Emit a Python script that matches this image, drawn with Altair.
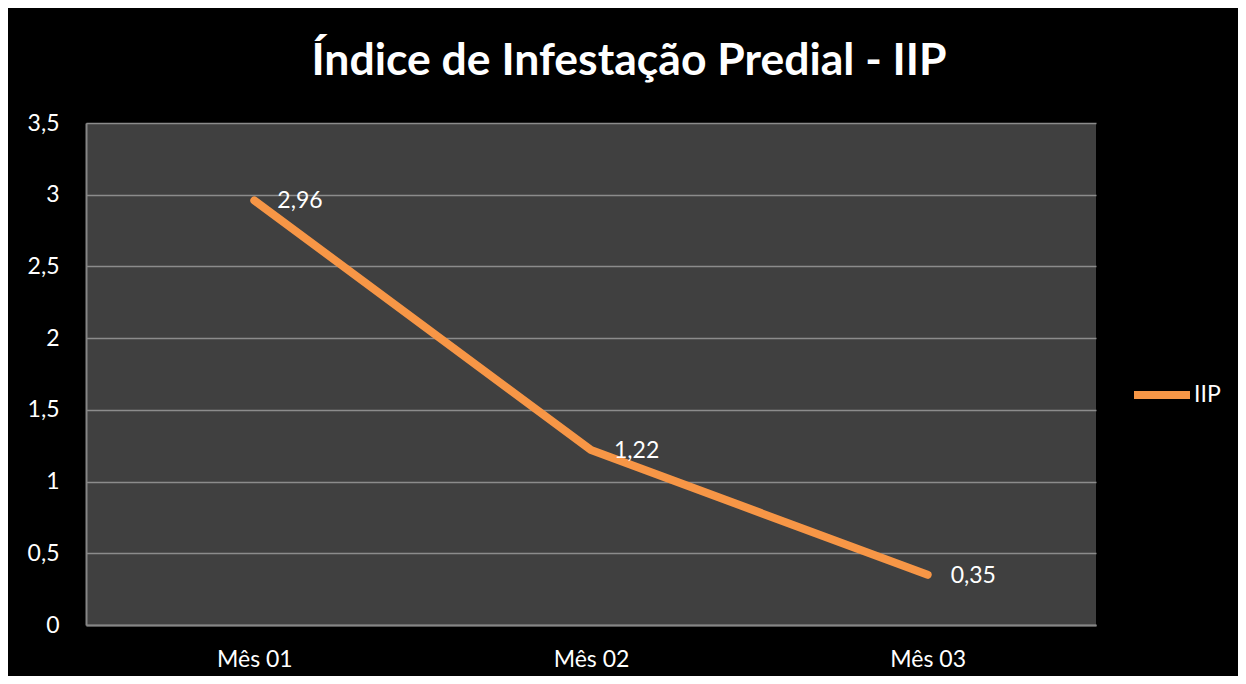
import altair as alt
import pandas as pd

months = ["Mês 01", "Mês 02", "Mês 03"]
iip = [2.96, 1.22, 0.35]
series = ["IIP", "IIP", "IIP"]

df = pd.DataFrame({"mes": months, "iip": iip, "serie": series})

FONT = "Lato"

base = alt.Chart(df).encode(
    x=alt.X("mes:N", sort=months, title=None,
            scale=alt.Scale(type="point", padding=0.5),
            axis=alt.Axis(labelAngle=0, labelColor="white", labelFontSize=23,
                          labelFont=FONT, labelPadding=23, ticks=False,
                          domainColor="#868686", domainWidth=2, grid=False)),
    y=alt.Y("iip:Q", title=None,
            scale=alt.Scale(domain=[0, 3.5], nice=False),
            axis=alt.Axis(values=[0, 0.5, 1, 1.5, 2, 2.5, 3, 3.5],
                          labelExpr="replace(toString(datum.value), '.', ',')",
                          labelColor="white", labelFontSize=23, labelFont=FONT,
                          labelPadding=27, ticks=False,
                          domainColor="#868686", domainWidth=2,
                          gridColor="#8c8c8c", gridWidth=1.5)),
)

line = base.mark_line(strokeWidth=8, strokeCap="round", strokeJoin="round").encode(
    color=alt.Color("serie:N", title=None,
                    scale=alt.Scale(range=["#F79646"]),
                    legend=alt.Legend(orient="none", legendX=1044, legendY=240,
                                      symbolType="stroke", symbolSize=3136,
                                      symbolStrokeWidth=8, labelColor="white",
                                      labelFontSize=23, labelFont=FONT,
                                      labelOffset=0, padding=0))
)

labels = base.mark_text(align="left", baseline="middle", dx=23, dy=1, color="white",
                        fontSize=23, font=FONT).transform_calculate(
    lbl="replace(format(datum.iip, '.2f'), '.', ',')"
).encode(text="lbl:N")

chart = (line + labels).properties(
    width=1010, height=502,
    autosize=alt.AutoSizeParams(type="none"),
    padding={"left": 78, "top": 115, "right": 142, "bottom": 51},
    background="black",
    title=alt.TitleParams("Índice de Infestação Predial - IIP", color="white",
                          fontSize=44.5, font=FONT, fontWeight="bold",
                          anchor="middle", frame="group", dx=38, offset=28),
).configure_view(fill="#404040", stroke=None)

chart.save("out.html", embed_options={"renderer": "svg", "actions": False})
